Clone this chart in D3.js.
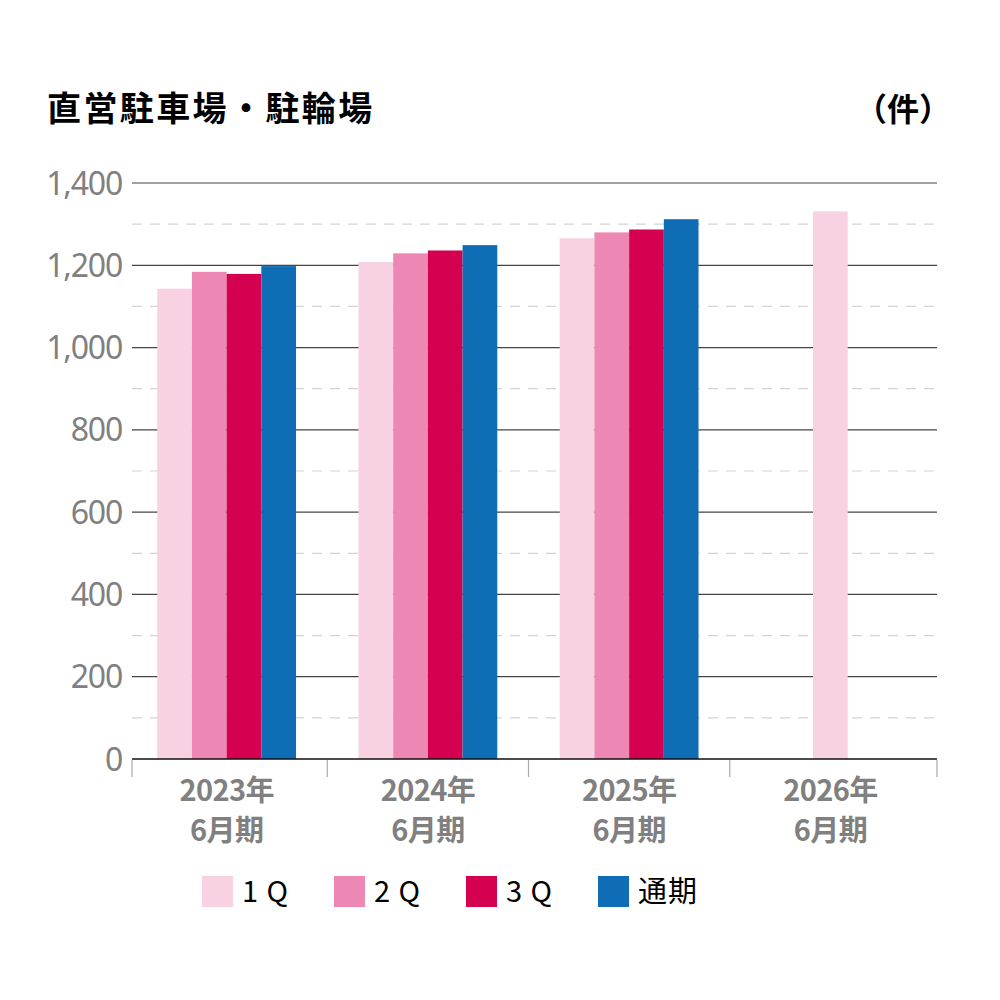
<!DOCTYPE html>
<html>
<head>
<meta charset="utf-8">
<script src="https://cdn.jsdelivr.net/npm/d3@7"></script>
<style>
  body { margin: 0; background: #fff; }
  svg { display: block; }
</style>
</head>
<body>
<div id="chart"></div>
<script>
'use strict';

// values
const years = ["2023年", "2024年", "2025年", "2026年"];
const periodLabel = "6月期";
const seriesNames = ["1Q", "2Q", "3Q", "通期"];
const legendLabels = ["1 Q", "2 Q", "3 Q", "通期"];
const q1Values = [1143, 1208, 1266, 1331];
const q2Values = [1184, 1229, 1280, null];
const q3Values = [1179, 1236, 1287, null];
const fullValues = [1198, 1249, 1312, null];
const yTicks = [0, 200, 400, 600, 800, 1000, 1200, 1400];
const yMinorTicks = [100, 300, 500, 700, 900, 1100, 1300];

const colors = ["#f8d2e3", "#ed88b5", "#d5004f", "#0f6db6"];
const seriesValues = [q1Values, q2Values, q3Values, fullValues];

const W = 1000, H = 1000;
const plotLeft = 132, plotRight = 937, plotTop = 183, plotBottom = 759;
const barW = 34.7;

const svg = d3.select("#chart").append("svg")
    .attr("width", W).attr("height", H);

const y = d3.scaleLinear().domain([0, 1400]).range([plotBottom, plotTop]);
const x0 = d3.scaleBand().domain(years).range([126, 931]).paddingInner(0).paddingOuter(0);

// one row per year, holding only the values that exist
const rows = years.map((yr, i) => ({
    year: yr,
    bars: seriesNames.map((s, j) => ({ key: s, value: seriesValues[j][i], color: colors[j] }))
        .filter(b => b.value != null)
}));

// title + unit
svg.append("text")
    .attr("x", 47).attr("y", 121)
    .attr("font-family", "'Noto Sans CJK JP', sans-serif")
    .attr("font-weight", 700)
    .attr("font-size", 34)
    .attr("letter-spacing", 2.4)
    .attr("fill", "#000")
    .text("直営駐車場・駐輪場");

svg.append("text")
    .attr("x", 951).attr("y", 121)
    .attr("text-anchor", "end")
    .attr("font-family", "'Noto Sans CJK JP', sans-serif")
    .attr("font-weight", 700)
    .attr("font-size", 32)
    .attr("fill", "#000")
    .text("（件）");

// dashed minor grid
svg.append("g")
    .selectAll("line")
    .data(yMinorTicks)
    .join("line")
    .attr("x1", plotLeft).attr("x2", plotRight)
    .attr("y1", d => y(d)).attr("y2", d => y(d))
    .attr("stroke", "#d4d4d4")
    .attr("stroke-width", 1.2)
    .attr("stroke-dasharray", "10,8");

// solid major grid
svg.append("g")
    .selectAll("line")
    .data(yTicks.filter(d => d > 0))
    .join("line")
    .attr("x1", plotLeft).attr("x2", plotRight)
    .attr("y1", d => y(d)).attr("y2", d => y(d))
    .attr("stroke", "#444")
    .attr("stroke-width", 1.2);

// y labels
svg.append("g")
    .selectAll("text")
    .data(yTicks)
    .join("text")
    .attr("x", 122)
    .attr("y", d => y(d))
    .attr("dy", "0.36em")
    .attr("text-anchor", "end")
    .attr("font-family", "'Noto Sans', sans-serif")
    .attr("font-size", 32)
    .attr("letter-spacing", -1.2)
    .attr("fill", "#808080")
    .text(d => d3.format(",")(d));

// bars
const groups = svg.append("g")
    .selectAll("g")
    .data(rows)
    .join("g")
    .attr("transform", d => {
        const gw = d.bars.length * barW;
        return `translate(${x0(d.year) + (x0.bandwidth() - gw) / 2},0)`;
    });

groups.selectAll("rect")
    .data(d => d.bars)
    .join("rect")
    .attr("x", (d, i) => i * barW)
    .attr("width", barW)
    .attr("y", d => y(d.value))
    .attr("height", d => y(0) - y(d.value))
    .attr("fill", d => d.color);

// x axis line
svg.append("line")
    .attr("x1", plotLeft).attr("x2", plotRight)
    .attr("y1", plotBottom).attr("y2", plotBottom)
    .attr("stroke", "#111")
    .attr("stroke-width", 1.5);

// separators between categories
const sepX = [plotLeft].concat(years.slice(1).map(d => x0(d))).concat([plotRight]);
svg.append("g")
    .selectAll("line")
    .data(sepX)
    .join("line")
    .attr("x1", d => d).attr("x2", d => d)
    .attr("y1", plotBottom + 1).attr("y2", plotBottom + 18)
    .attr("stroke", "#aaa")
    .attr("stroke-width", 1.2);

// category labels, two lines each
const labelFont = {
    "font-family": "'Noto Sans CJK JP', sans-serif",
    "font-weight": 700,
    "font-size": 29,
    "letter-spacing": -0.6,
    "fill": "#808080",
    "text-anchor": "middle"
};
[[d => d, 801], [() => periodLabel, 841]].forEach(([txt, yy]) => {
    const t = svg.append("g")
        .selectAll("text")
        .data(years)
        .join("text")
        .attr("x", d => x0(d) + x0.bandwidth() / 2)
        .attr("y", yy)
        .text(txt);
    Object.entries(labelFont).forEach(([k, v]) => t.attr(k, v));
});

// legend
const legend = svg.append("g")
    .selectAll("g")
    .data(seriesNames)
    .join("g")
    .attr("transform", (d, i) => `translate(${202 + i * 132},876)`);

legend.append("rect")
    .attr("width", 31).attr("height", 31)
    .attr("fill", (d, i) => colors[i]);

legend.append("text")
    .attr("x", 40).attr("y", 26)
    .attr("font-family", "'Noto Sans CJK JP', sans-serif")
    .attr("font-size", 29)
    .attr("letter-spacing", 1)
    .attr("fill", "#000")
    .text((d, i) => legendLabels[i]);
</script>
</body>
</html>
